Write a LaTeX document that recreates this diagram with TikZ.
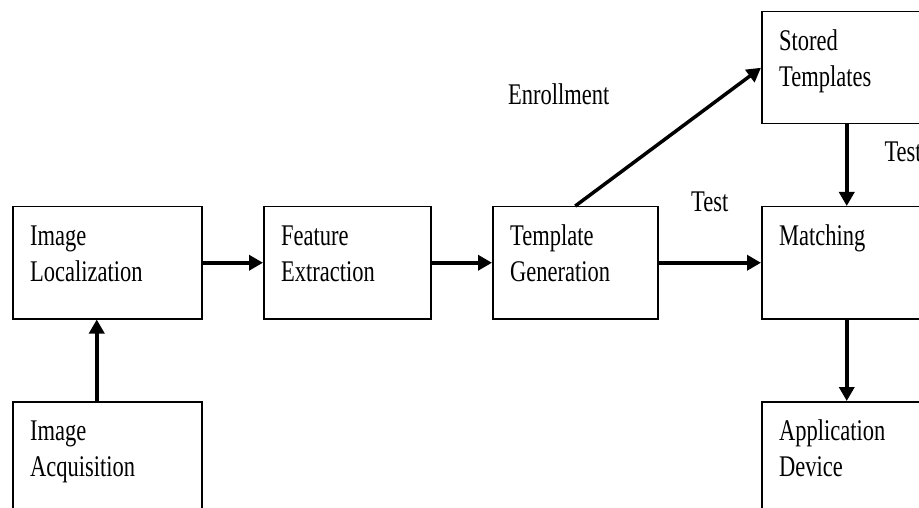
\documentclass[tikz,border=0pt]{standalone}
\usepackage{fontspec}
\setmainfont{Liberation Serif}[FakeStretch=0.75]
\usetikzlibrary{arrows.meta}
\tikzset{
  box/.style={draw,line width=1.5pt,anchor=north west,minimum height=112pt,inner sep=0},
  txt/.style={anchor=north west,align=left,inner sep=0,font=\fontsize{30}{36}\selectfont},
  lbl/.style={inner sep=0,font=\fontsize{30}{36}\selectfont},
  flow/.style={line width=3.5pt,-{Triangle[length=14pt,width=15pt]}}
}
\begin{document}
\begin{tikzpicture}[x=1pt,y=-1pt]
\useasboundingbox (0,0) rectangle (919,508);
\clip (0,0) rectangle (919,508);
\foreach \n/\x/\y/\w/\t in {
  loc/12/206/189/{Image\\Localization},
  acq/12/401/189/{Image\\Acquisition},
  feat/263/206/167/{Feature\\Extraction},
  gen/492/206/165/{Template\\Generation},
  stored/761/11/170/{Stored\\Templates},
  match/761/206/170/{Matching},
  app/761/401/170/{Application\\Device}}
{
  \node[box,minimum width=\w pt] (\n) at (\x,\y) {};
  \node[txt] (\n-t) at ([shift={(18,14)}]\n.north west) {\strut\t};
}
\draw[flow] ([xshift=-10.5pt]acq.north) -- ([xshift=-10.5pt]loc.south);
\draw[flow] (loc.east) -- (feat.west);
\draw[flow] (feat.east) -- (gen.west);
\draw[flow] (gen.east) -- node[lbl,above=49pt] (test1) {Test} (match.west);
\draw[flow] (gen.north) -- (stored.west);
\node[lbl,anchor=base west] (enroll) at (508,105) {Enrollment};
\draw[flow] (stored.south) -- node[lbl,pos=.45,anchor=base west,xshift=36pt] (test2) {Test} (match.north);
\draw[flow] (match.south) -- (app.north);
\end{tikzpicture}
\end{document}
